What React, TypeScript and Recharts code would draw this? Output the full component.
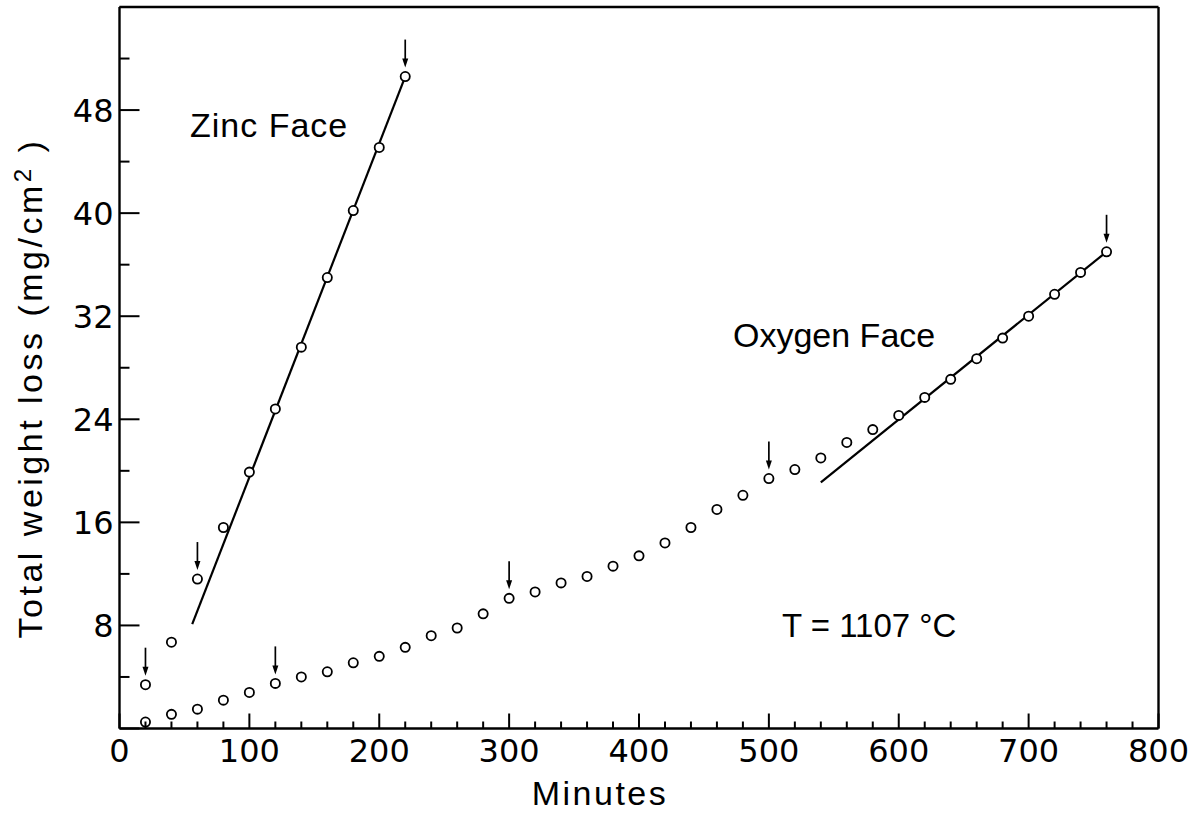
import { ComposedChart, Line, Scatter, XAxis, YAxis, Customized } from "recharts"

// weight loss of ZnO crystal faces, T = 1107 C
const zincTimes = [20, 40, 60, 80, 100, 120, 140, 160, 180, 200, 220]
const zincLoss = [3.4, 6.7, 11.6, 15.6, 19.9, 24.8, 29.6, 35.0, 40.2, 45.1, 50.6]

const oxygenTimes = [
  20, 40, 60, 80, 100, 120, 140, 160, 180, 200, 220, 240, 260, 280, 300, 320, 340, 360, 380,
  400, 420, 440, 460, 480, 500, 520, 540, 560, 580, 600, 620, 640, 660, 680, 700, 720, 740, 760,
]
const oxygenLoss = [
  0.5, 1.1, 1.5, 2.2, 2.8, 3.5, 4.0, 4.4, 5.1, 5.6, 6.3, 7.2, 7.8, 8.9, 10.1, 10.6, 11.3, 11.8, 12.6,
  13.4, 14.4, 15.6, 17.0, 18.1, 19.4, 20.1, 21.0, 22.2, 23.2, 24.3, 25.7, 27.1, 28.7, 30.3, 32.0, 33.7, 35.4, 37.0,
]

// fitted straight lines
const zincFitTimes = [56, 220]
const zincFitLoss = [8.1, 50.6]
const oxygenFitTimes = [540, 760]
const oxygenFitLoss = [19.1, 37.0]

// points marked with an arrow
const zincArrowTimes = [20, 60, 220]
const oxygenArrowTimes = [120, 300, 500, 760]

const xTicks = Array.from({ length: 41 }, (_, i) => i * 20)
const yTicks = Array.from({ length: 15 }, (_, i) => i * 4)

const toPoints = (xs: number[], ys: number[]) => xs.map((x, i) => ({ x, y: ys[i] }))
const pick = (times: number[], xs: number[], ys: number[]) =>
  times.map((t) => ({ x: t, y: ys[xs.indexOf(t)] }))

const zincData = toPoints(zincTimes, zincLoss)
const oxygenData = toPoints(oxygenTimes, oxygenLoss)
const zincFit = toPoints(zincFitTimes, zincFitLoss)
const oxygenFit = toPoints(oxygenFitTimes, oxygenFitLoss)
const arrowData = [
  ...pick(zincArrowTimes, zincTimes, zincLoss),
  ...pick(oxygenArrowTimes, oxygenTimes, oxygenLoss),
]

const FONT = "'Liberation Sans', Arial, sans-serif"
const DIGITS = "'DejaVu Sans', sans-serif"

const BottomTick = ({ x, y, payload }: any) => {
  const major = payload.value % 100 === 0
  return (
    <g>
      <line x1={x} x2={x} y1={y} y2={y - (major ? 15 : 7)} stroke="#000" strokeWidth={2} />
      {major && (
        <text x={x} y={y + 33} textAnchor="middle" fontSize={32} fontFamily={DIGITS} fill="#000">
          {payload.value}
        </text>
      )}
    </g>
  )
}

const TopTick = ({ x, y, payload }: any) => {
  const major = payload.value % 100 === 0
  return <line x1={x} x2={x} y1={y} y2={y + (major ? 13 : 7)} stroke="#000" strokeWidth={2} />
}

const LeftTick = ({ x, y, payload }: any) => {
  const major = payload.value % 8 === 0
  const label = major && payload.value > 0 && payload.value < 56
  return (
    <g>
      <line x1={x} x2={x + (major ? 20 : 10)} y1={y} y2={y} stroke="#000" strokeWidth={2} />
      {label && (
        <text x={x - 6} y={y + 12} textAnchor="end" fontSize={32} fontFamily={DIGITS} fill="#000">
          {payload.value}
        </text>
      )}
    </g>
  )
}

const RightTick = ({ x, y, payload }: any) => {
  const major = payload.value % 8 === 0
  return <line x1={x} x2={x - (major ? 22 : 10)} y1={y} y2={y} stroke="#000" strokeWidth={2} />
}

const OpenCircle = (props: any) => (
  <circle cx={props.cx} cy={props.cy} r={4.6} fill="#fff" stroke="#000" strokeWidth={1.8} />
)

const Arrow = (props: any) => {
  const { cx, cy } = props
  return (
    <g>
      <line x1={cx} x2={cx} y1={cy - 37} y2={cy - 15} stroke="#000" strokeWidth={1.7} />
      <path d={`M${cx - 3},${cy - 18} L${cx + 3},${cy - 18} L${cx},${cy - 9} Z`} fill="#000" />
    </g>
  )
}

const Annotations = () => (
  <g fontFamily={FONT} fill="#000">
    <text x={190} y={137} fontSize={34} style={{ letterSpacing: 1 }}>
      Zinc Face
    </text>
    <text x={733} y={347} fontSize={34}>
      Oxygen Face
    </text>
    <text x={782} y={637} fontSize={33}>
      T = 1107 °C
    </text>
    <text x={600} y={805} fontSize={34} textAnchor="middle" style={{ letterSpacing: 2.5 }}>
      Minutes
    </text>
    <text
      transform="rotate(-90)"
      x={-388}
      y={42}
      fontSize={34}
      textAnchor="middle"
      style={{ letterSpacing: 3.5 }}
    >
      Total weight loss (mg/cm
      <tspan dy={-11} fontSize={24}>
        2
      </tspan>
      <tspan dy={11}> )</tspan>
    </text>
  </g>
)

const axisLine = { stroke: "#000", strokeWidth: 2.4 }

export default function App() {
  return (
    <div style={{ position: "absolute", left: 0, top: 0, background: "#fff" }}>
      <ComposedChart
        width={1199}
        height={814}
        margin={{ top: 6, right: 39.5, bottom: 84.5, left: 118.5 }}
      >
        <XAxis
          xAxisId="bottom"
          dataKey="x"
          type="number"
          domain={[0, 800]}
          ticks={xTicks}
          interval={0}
          height={1}
          tickSize={0}
          tickMargin={0}
          tickLine={false}
          axisLine={axisLine}
          tick={<BottomTick />}
        />
        <XAxis
          xAxisId="top"
          orientation="top"
          dataKey="x"
          type="number"
          domain={[0, 800]}
          ticks={xTicks}
          interval={0}
          height={1}
          tickSize={0}
          tickMargin={0}
          tickLine={false}
          axisLine={axisLine}
          tick={<TopTick />}
        />
        <YAxis
          yAxisId="left"
          dataKey="y"
          type="number"
          domain={[0, 56]}
          ticks={yTicks}
          interval={0}
          width={1}
          tickSize={0}
          tickMargin={0}
          tickLine={false}
          axisLine={axisLine}
          tick={<LeftTick />}
        />
        <YAxis
          yAxisId="right"
          orientation="right"
          dataKey="y"
          type="number"
          domain={[0, 56]}
          ticks={yTicks}
          interval={0}
          width={1}
          tickSize={0}
          tickMargin={0}
          tickLine={false}
          axisLine={axisLine}
          tick={<RightTick />}
        />
        <Line
          xAxisId="bottom"
          yAxisId="left"
          data={zincFit}
          dataKey="y"
          stroke="#000"
          strokeWidth={2.2}
          dot={false}
          isAnimationActive={false}
        />
        <Line
          xAxisId="bottom"
          yAxisId="left"
          data={oxygenFit}
          dataKey="y"
          stroke="#000"
          strokeWidth={2.2}
          dot={false}
          isAnimationActive={false}
        />
        <Scatter
          xAxisId="bottom"
          yAxisId="left"
          data={zincData}
          dataKey="y"
          shape={<OpenCircle />}
          isAnimationActive={false}
        />
        <Scatter
          xAxisId="bottom"
          yAxisId="left"
          data={oxygenData}
          dataKey="y"
          shape={<OpenCircle />}
          isAnimationActive={false}
        />
        <Scatter
          xAxisId="bottom"
          yAxisId="left"
          data={arrowData}
          dataKey="y"
          shape={<Arrow />}
          isAnimationActive={false}
        />
        <Customized component={Annotations} />
      </ComposedChart>
    </div>
  )
}
